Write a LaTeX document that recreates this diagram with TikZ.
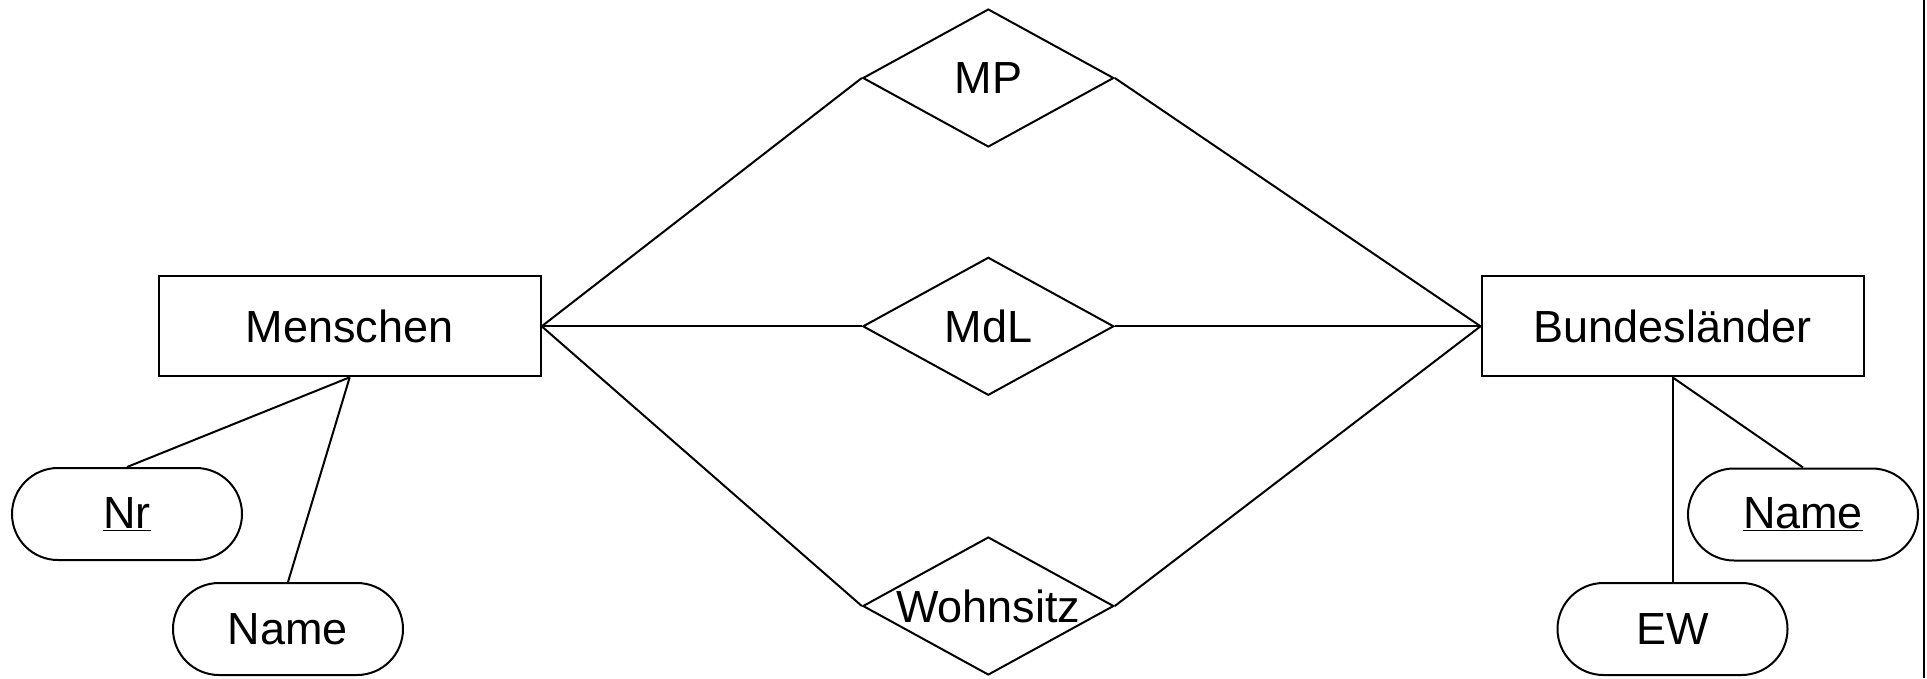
\documentclass[tikz,border=0pt]{standalone}
\usepackage{fontspec}
\setmainfont{Liberation Sans}
\usetikzlibrary{shapes.geometric}
\begin{document}
\begin{tikzpicture}[x=1pt,y=-1pt,
  every node/.style={font=\fontsize{45}{54}\selectfont},
  line width=2pt,
  entity/.style={draw, rectangle, minimum width=382pt, minimum height=100pt, inner sep=0pt},
  rel/.style={draw, diamond, minimum width=251pt, minimum height=138pt, inner sep=0pt, aspect=1.82},
  attr/.style={draw, rectangle, rounded corners=46pt, minimum width=230pt, minimum height=92pt, inner sep=0pt}]
\useasboundingbox (0,0) rectangle (1927,678);
\node[entity] (m) at (349.7,326.3) {Menschen};
\node[entity] (b) at (1672.5,326.3) {Bundesländer};
\node[rel, label={center:MP}] (mp) at (988.3,78) {};
\node[rel, label={center:MdL}] (mdl) at (988.3,326.3) {};
\node[rel, label={center:Wohnsitz}] (ws) at (988.3,606) {};
\node[attr] (nr) at (127,514) {\underline{Nr}};
\node[attr] (mname) at (288,629) {Name};
\node[attr] (bname) at (1803,514.5) {\underline{Name}};
\node[attr] (ew) at (1672.5,629) {EW};
\draw (m.east) -- (mp.west);
\draw (m.east) -- (mdl.west);
\draw (m.east) -- (ws.west);
\draw (mp.east) -- (b.west);
\draw (mdl.east) -- (b.west);
\draw (ws.east) -- (b.west);
\draw (m.south) -- (nr.north);
\draw (m.south) -- (mname.north);
\draw (b.south) -- (ew.north);
\draw (b.south) -- (bname.north);
\draw (1924,0) -- (1924,678);
\end{tikzpicture}
\end{document}
